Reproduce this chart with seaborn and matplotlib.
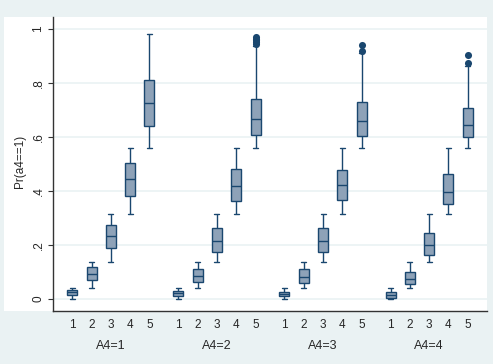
import numpy as np
import pandas as pd
import matplotlib.pyplot as plt
from matplotlib.patches import Rectangle
import seaborn as sns

GROUPS = ["A4=1", "A4=2", "A4=3", "A4=4"]
LEVELS = [1, 2, 3, 4, 5]

# five-number summaries, one row per level: [lower whisker, q1, median, q3, upper whisker]
A4_1 = [[0.000, 0.017, 0.026, 0.032, 0.042],
        [0.041, 0.070, 0.094, 0.117, 0.138],
        [0.138, 0.189, 0.232, 0.275, 0.314],
        [0.315, 0.383, 0.444, 0.502, 0.559],
        [0.559, 0.642, 0.725, 0.810, 0.980]]
A4_2 = [[0.000, 0.012, 0.021, 0.030, 0.042],
        [0.041, 0.062, 0.086, 0.110, 0.138],
        [0.138, 0.173, 0.215, 0.262, 0.314],
        [0.315, 0.363, 0.417, 0.483, 0.559],
        [0.559, 0.607, 0.666, 0.741, 0.935]]
A4_3 = [[0.000, 0.011, 0.020, 0.028, 0.041],
        [0.041, 0.059, 0.083, 0.110, 0.138],
        [0.138, 0.173, 0.214, 0.262, 0.314],
        [0.315, 0.368, 0.422, 0.479, 0.559],
        [0.559, 0.605, 0.658, 0.728, 0.910]]
A4_4 = [[0.000, 0.003, 0.014, 0.025, 0.041],
        [0.041, 0.057, 0.074, 0.099, 0.138],
        [0.138, 0.164, 0.199, 0.246, 0.314],
        [0.315, 0.352, 0.396, 0.462, 0.559],
        [0.559, 0.601, 0.643, 0.709, 0.862]]
SUMMARIES = [A4_1, A4_2, A4_3, A4_4]

# outside values of level 5 in each group
OUTLIERS_L5 = [[],
               [0.945, 0.952, 0.958, 0.964, 0.970],
               [0.918, 0.941],
               [0.873, 0.903]]

GROUP_STEP = 5.5  # distance between groups on the x scale
BG = "#EAF2F3"
FILL = "#8EA2B8"
NAVY = "#1A476F"
FS = 8.5

rows = []
for gi, summ in enumerate(SUMMARIES):
    for lev, five in zip(LEVELS, summ):
        for v in five:
            rows.append({"pos": gi * GROUP_STEP + lev, "pr": v})
df = pd.DataFrame(rows)

out_x, out_y = [], []
for gi, vals in enumerate(OUTLIERS_L5):
    for v in vals:
        out_x.append(gi * GROUP_STEP + LEVELS[-1])
        out_y.append(v)

sns.set_style("white")
plt.rcParams['font.family'] = ['Liberation Sans', 'DejaVu Sans']

fig = plt.figure(figsize=(4.93, 3.64), dpi=100, facecolor=BG)
W, H = 493, 364
# white plot region behind the axes (includes the y labels, like Stata)
fig.patches.append(Rectangle((4 / W, 1 - 311 / H), (487 - 4) / W, (311 - 17) / H,
                             transform=fig.transFigure, facecolor="white",
                             edgecolor="none", zorder=-5))
ax = fig.add_axes([53 / W, 1 - 311 / H, (487 - 53) / W, (311 - 17) / H])
ax.set_facecolor("white")

sns.boxplot(data=df, x="pos", y="pr", native_scale=True, whis=(0, 100),
            width=0.52, color=FILL, linecolor=NAVY, linewidth=1.0,
            saturation=1, showfliers=False, ax=ax)
sns.scatterplot(x=out_x, y=out_y, color=NAVY, s=26, linewidth=0, ax=ax, zorder=4)

ax.set_xlim(0, 3 * GROUP_STEP + 6)
ax.set_ylim(-0.044, 1.044)

ticks = [gi * GROUP_STEP + lev for gi in range(len(GROUPS)) for lev in LEVELS]
ax.set_xticks(ticks)
ax.set_xticklabels([str(lev) for _ in GROUPS for lev in LEVELS], fontsize=FS)
ax.tick_params(axis="x", length=0, pad=6)

ax.set_yticks([0, 0.2, 0.4, 0.6, 0.8, 1])
ax.set_yticklabels(["0", ".2", ".4", ".6", ".8", "1"], fontsize=FS,
                   rotation=90, va="center")
ax.tick_params(axis="y", left=True, length=3.6, width=0.8, color="#333333", pad=2.5)

ax.yaxis.grid(True, color=BG, linewidth=1.2)
ax.xaxis.grid(False)
ax.set_axisbelow(True)

sns.despine(ax=ax)
for side in ["left", "bottom"]:
    ax.spines[side].set_color("#333333")
    ax.spines[side].set_linewidth(1.0)

ax.set_xlabel("")
ax.set_ylabel("Pr(a4==1)", fontsize=FS)
ax.yaxis.set_label_coords(-0.063, 0.51)

for gi, name in enumerate(GROUPS):
    ax.text(gi * GROUP_STEP + 3, -0.119, name, transform=ax.get_xaxis_transform(),
            ha="center", va="center", fontsize=FS + 0.5)

fig.savefig("out.png", dpi=100, facecolor=BG)
